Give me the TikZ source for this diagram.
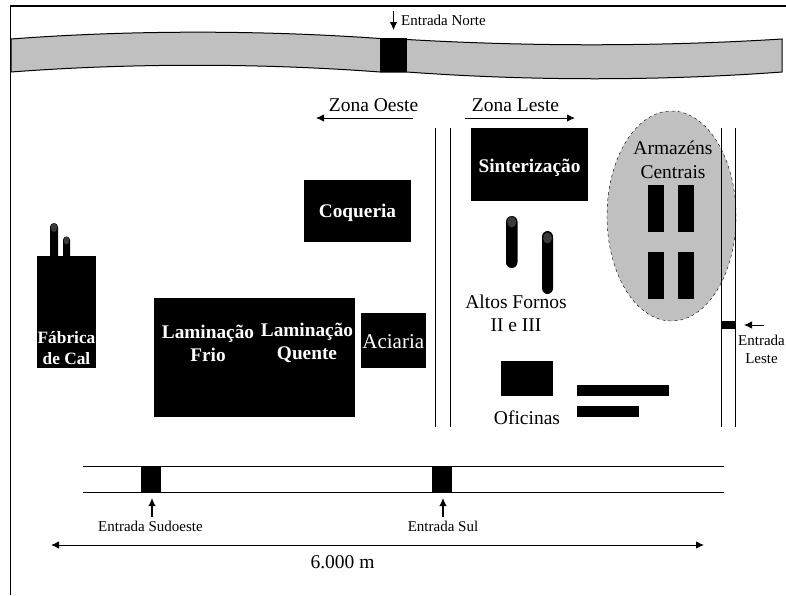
\documentclass[tikz,border=0pt]{standalone}
\usepackage{fontspec}
\setmainfont{Liberation Serif}
\usetikzlibrary{arrows.meta,positioning,shapes.geometric}
\definecolor{roadgray}{HTML}{C0C0C0}
\definecolor{capgray}{HTML}{3A3A3A}
\tikzset{
  blockbox/.style={fill=black, inner sep=0pt, text=white, align=center},
  boldlabel/.style={text=white, inner sep=0pt, align=center, font=\fontsize{19.3}{23}\selectfont\bfseries},
  biglabel/.style={inner sep=0pt, align=center, font=\fontsize{19.5}{23.5}\selectfont},
  smalllabel/.style={inner sep=0pt, align=center, font=\fontsize{15}{18}\selectfont},
  roadline/.style={line width=1pt},
  pointer/.style={line width=1pt, -{Latex[length=8pt,width=7.5pt]}},
  capsule/.style={fill=black, rounded corners=3.5pt},
  capmark/.style={fill=capgray, ellipse, inner sep=0pt}
}
\begin{document}
\begin{tikzpicture}[x=1pt,y=-1pt]
\path[use as bounding box] (0,0) rectangle (786,595);
\draw[line width=1.6pt] (10.5,595) -- (10.5,6) -- (786,6);

\draw[roadline, fill=roadgray] (11,39) .. controls (130,30) and (260,30) .. (380,38.5) -- (407,39.5)
  .. controls (530,46.6) and (660,46.6) .. (782,39) -- (782,72)
  .. controls (660,81) and (530,81) .. (407,72) -- (380,72)
  .. controls (260,63) and (130,63) .. (11,72) -- cycle;
\node[blockbox, minimum width=27pt, minimum height=34pt] (portanorte) at (393.5,55) {};
\coordinate (nortestart) at (393.5,11);
\coordinate (norteend) at (393.5,30);
\draw[pointer] (nortestart) -- (norteend);
\node[smalllabel, anchor=west] (entradanorte) at (401,20) {Entrada Norte};

\node[biglabel] (zonaoeste) at (373.5,105) {Zona Oeste};
\node[biglabel] (zonaleste) at (515.5,105) {Zona Leste};
\coordinate (oestestart) at (413,118);
\coordinate (oesteend) at (316,118);
\coordinate (lestestart) at (465,118);
\coordinate (lesteend) at (575,118);
\draw[pointer] (oestestart) -- (oesteend);
\draw[pointer] (lestestart) -- (lesteend);

\node[blockbox, minimum width=107pt, minimum height=62pt] (coqueria) at (357.5,211) {};
\node[boldlabel] (coqueriatxt) at (357.5,213) {Coqueria};
\node[blockbox, minimum width=117pt, minimum height=73pt] (sinterizacao) at (529.5,164.5) {};
\node[boldlabel] (sinterizacaotxt) at (529.5,168) {Sinterização};
\node[blockbox, minimum width=59pt, minimum height=112pt] (fabrica) at (66.5,312) {};
\node[boldlabel, font=\fontsize{17.3}{21.5}\selectfont\bfseries] (fabricatxt) at (66.5,348) {Fábrica\\de Cal};
\node[blockbox, minimum width=201.5pt, minimum height=119pt] (laminacao) at (254.25,357.5) {};
\node[boldlabel] (frio) at (208,343) {Laminação\\Frio};
\node[boldlabel] (quente) at (307,343) {Laminação\\Quente};
\node[blockbox, minimum width=64.5pt, minimum height=55pt] (aciaria) at (393.25,340.5) {};
\node[biglabel, text=white, font=\fontsize{21}{23}\selectfont] (aciariatxt) at (393.25,341.5) {Aciaria};

\fill (50,256) -- (50,227) arc[start angle=180, end angle=0, radius=4pt] -- (58,256) -- cycle;
\fill (63,256) -- (63,240) arc[start angle=180, end angle=0, radius=3.5pt] -- (70,256) -- cycle;
\node[capmark, minimum width=6.5pt, minimum height=9pt] (capa) at (54,227.5) {};
\node[capmark, minimum width=5.5pt, minimum height=8pt] (capb) at (66.5,240.5) {};

\fill[capsule, rounded corners=5.7pt] (506,216) rectangle (517.5,268);
\fill[capsule, rounded corners=5.7pt] (542,231) rectangle (553,294);
\node[capmark, minimum width=9pt, minimum height=11pt] (capc) at (511.7,222) {};
\node[capmark, minimum width=9pt, minimum height=11pt] (capd) at (547.5,238) {};
\node[biglabel] (altos) at (516,313.5) {Altos Fornos\\II e III};

\node[draw, dashed, fill=roadgray, ellipse, inner sep=0pt, minimum width=129pt, minimum height=210pt] (armazens) at (671.5,216) {};
\node[biglabel] (armazenstxt) at (673,160) {Armazéns\\Centrais};
\foreach \px/\py/\pname in {656/208.5/a, 686/208.5/b, 656/275.5/c, 686/275.5/d}
  \node[blockbox, minimum width=16.5pt, minimum height=47pt] (galpao\pname) at (\px,\py) {};

\foreach \vx/\vname in {435.7/a, 450.5/b, 721/c, 735.5/d} {
  \coordinate (via\vname top) at (\vx,128);
  \coordinate (via\vname bot) at (\vx,427);
  \draw[roadline] (via\vname top) -- (via\vname bot);
}
\node[blockbox, minimum width=14pt, minimum height=8pt] (portaleste) at (729,325) {};
\coordinate (lesteastart) at (764,325);
\coordinate (lesteaend) at (744,325);
\draw[pointer] (lesteastart) -- (lesteaend);
\node[smalllabel] (entradaleste) at (761.5,349.5) {Entrada\\Leste\hspace{7pt}};

\node[blockbox, minimum width=52pt, minimum height=35pt] (oficinas) at (527,378.5) {};
\node[blockbox, minimum width=92pt, minimum height=11pt] (barraa) at (623,390.5) {};
\node[blockbox, minimum width=61.5pt, minimum height=11.5pt] (barrab) at (607.75,411.25) {};
\node[biglabel] (oficinastxt) at (527,418) {Oficinas};

\coordinate (sulatop) at (82.5,466);
\coordinate (sulbtop) at (724,466);
\coordinate (sulabot) at (82.5,492.5);
\coordinate (sulbbot) at (724,492.5);
\draw[roadline] (sulatop) -- (sulbtop);
\draw[roadline] (sulabot) -- (sulbbot);
\node[blockbox, minimum width=20.5pt, minimum height=27pt] (portasudoeste) at (150.75,479.5) {};
\node[blockbox, minimum width=20pt, minimum height=27pt] (portasul) at (442,479.5) {};
\coordinate (sudoestestart) at (152,517);
\coordinate (sudoesteend) at (152,498);
\coordinate (sulstart) at (443,517);
\coordinate (sulend) at (443,498);
\draw[pointer, line width=1.4pt] (sudoestestart) -- (sudoesteend);
\draw[pointer, line width=1.4pt] (sulstart) -- (sulend);
\node[smalllabel] (entradasudoeste) at (150.5,526.5) {Entrada Sudoeste};
\node[smalllabel] (entradasul) at (443,526.5) {Entrada Sul};

\coordinate (escalaa) at (51,545);
\coordinate (escalab) at (704,545);
\draw[line width=1pt, {Latex[length=8pt,width=7.5pt]}-{Latex[length=8pt,width=7.5pt]}] (escalaa) -- (escalab);
\node[biglabel] (escala) at (342.5,562) {6.000 m};
\end{tikzpicture}
\end{document}
